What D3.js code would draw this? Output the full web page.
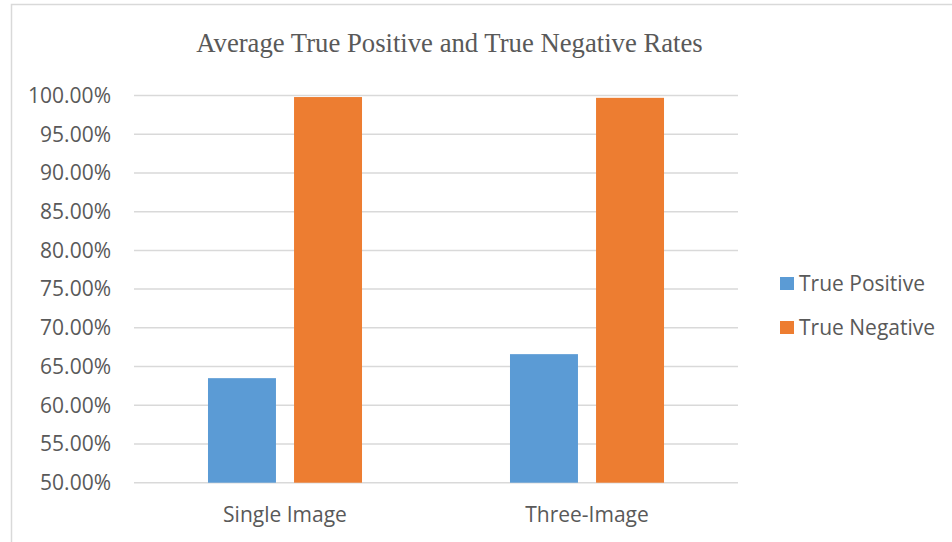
<!DOCTYPE html>
<html>
<head>
<meta charset="utf-8">
<script src="https://cdn.jsdelivr.net/npm/d3@7"></script>
<style>
  html, body { margin: 0; padding: 0; background: #fff; }
  svg { display: block; }
</style>
</head>
<body>
<svg id="chart" width="952" height="542"></svg>
<script>
// Average detection rates for each capture setup
const categories = ["Single Image", "Three-Image"];
const seriesNames = ["True Positive", "True Negative"];
const truePositive = [0.635, 0.666];
const trueNegative = [0.998, 0.997];
const tickValues = [0.50, 0.55, 0.60, 0.65, 0.70, 0.75, 0.80, 0.85, 0.90, 0.95, 1.00];
const colors = ["#5b9bd5", "#ed7d31"];

const svg = d3.select("#chart");
const labelFont = "'Open Sans', 'Noto Sans', sans-serif";
const labelSize = 21;

// Chart frame
svg.append("rect")
  .attr("x", 11.5).attr("y", 4.5)
  .attr("width", 960).attr("height", 560)
  .attr("fill", "#fff")
  .attr("stroke", "#d9d9d9").attr("stroke-width", 1.5);

// Title
svg.append("text")
  .attr("x", 449.5).attr("y", 52)
  .attr("text-anchor", "middle")
  .attr("font-family", "'Liberation Serif', 'Times New Roman', serif")
  .attr("font-size", 26.7)
  .attr("fill", "#595959")
  .text("Average True Positive and True Negative Rates");

const plotLeft = 134, plotRight = 738;
const y = d3.scaleLinear().domain([0.5, 1.0]).range([482.7, 95.5]);

const x0 = d3.scaleBand().domain(categories)
  .range([plotLeft, plotRight])
  .paddingInner(0.49).paddingOuter(0.245);
const x1 = d3.scaleBand().domain(seriesNames)
  .range([0, x0.bandwidth()])
  .paddingInner(0.21);

// Horizontal gridlines
svg.append("g")
  .selectAll("line")
  .data(tickValues)
  .join("line")
  .attr("x1", plotLeft).attr("x2", plotRight)
  .attr("y1", d => y(d)).attr("y2", d => y(d))
  .attr("stroke", "#d9d9d9").attr("stroke-width", 1.5);

// Value axis labels
const fmt = d3.format(".2%");
svg.append("g")
  .selectAll("text")
  .data(tickValues)
  .join("text")
  .attr("x", 111).attr("y", d => y(d))
  .attr("dy", "0.35em")
  .attr("text-anchor", "end")
  .attr("font-family", labelFont)
  .attr("font-size", labelSize)
  .attr("fill", "#595959")
  .text(d => fmt(d));

// Bars
const rows = categories.map((c, i) => ({
  category: c,
  values: [
    { series: seriesNames[0], value: truePositive[i] },
    { series: seriesNames[1], value: trueNegative[i] }
  ]
}));

svg.append("g")
  .selectAll("g")
  .data(rows)
  .join("g")
  .attr("transform", d => `translate(${x0(d.category)},0)`)
  .selectAll("rect")
  .data(d => d.values)
  .join("rect")
  .attr("x", d => x1(d.series))
  .attr("width", x1.bandwidth())
  .attr("y", d => y(d.value))
  .attr("height", d => y(0.5) - y(d.value))
  .attr("fill", (d, i) => colors[i]);

// Category labels
svg.append("g")
  .selectAll("text")
  .data(categories)
  .join("text")
  .attr("x", d => x0(d) + x0.bandwidth() / 2)
  .attr("y", 522)
  .attr("text-anchor", "middle")
  .attr("font-family", labelFont)
  .attr("font-size", labelSize)
  .attr("fill", "#595959")
  .text(d => d);

// Legend
const legend = svg.append("g")
  .selectAll("g")
  .data(seriesNames)
  .join("g")
  .attr("transform", (d, i) => `translate(780, ${277 + i * 44})`);
legend.append("rect")
  .attr("width", 14).attr("height", 13)
  .attr("fill", (d, i) => colors[i]);
legend.append("text")
  .attr("x", 19).attr("y", 6.5)
  .attr("dy", "0.35em")
  .attr("font-family", labelFont)
  .attr("font-size", labelSize)
  .attr("fill", "#595959")
  .text(d => d);
</script>
</body>
</html>
